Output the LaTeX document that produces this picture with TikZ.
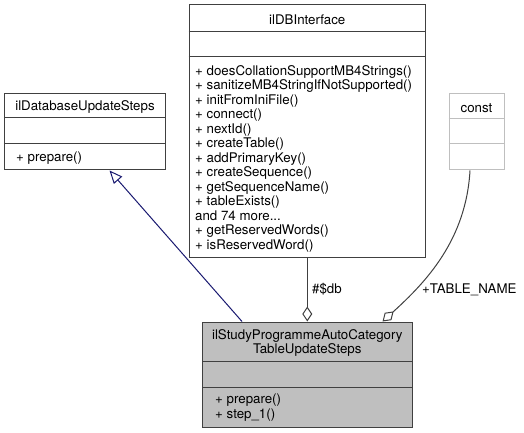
\documentclass[tikz,border=0pt]{standalone}
\usepackage{fontspec}
\setmainfont{TeX Gyre Heros}
\usetikzlibrary{arrows.meta}
\definecolor{edgegray}{HTML}{404040}
\definecolor{boxgray}{HTML}{BFBFBF}
\definecolor{inhblue}{HTML}{191970}

\begin{document}
\begin{tikzpicture}[x=1bp,y=-1bp,
  umlbox/.style={draw=edgegray,line width=1bp,fill=white,inner sep=0pt},
  sepline/.style={draw=edgegray,line width=1bp},
  headsty/.style={anchor=center,inner sep=0pt,align=center,font=\fontsize{13.3bp}{14.5bp}\selectfont},
  membsty/.style={anchor=west,inner sep=0pt,align=left,font=\fontsize{13.3bp}{14.5bp}\selectfont},
  inherit/.style={draw=inhblue,line width=1bp,-{Triangle[open,length=13bp,width=11bp]}},
  aggr/.style={draw=edgegray,line width=1bp,-{Diamond[open,length=15bp,width=10bp]}}]

  \useasboundingbox (0,0) rectangle (524,433);

  % base class
  \node[umlbox,minimum width=161bp,minimum height=76.5bp] (base) at (85,131.75) {};
  \draw[sepline] (base.west |- 0,118) -- (base.east |- 0,118);
  \draw[sepline] (base.west |- 0,144) -- (base.east |- 0,144);
  \node[headsty] (basetitle) at (85,106.9) {ilDatabaseUpdateSteps};
  \node[membsty] (basememb) at (16,158.3) {+ prepare()};

  % db interface
  \node[umlbox,minimum width=236.5bp,minimum height=252.5bp] (dbi) at (307.25,131.25) {};
  \draw[sepline] (dbi.west |- 0,32) -- (dbi.east |- 0,32);
  \draw[sepline] (dbi.west |- 0,57) -- (dbi.east |- 0,57);
  \node[headsty] (dbititle) at (307.25,19.9) {ilDBInterface};
  \node[membsty] (dbimemb) at (195,158.9) {+ doesCollationSupportMB4Strings()\\
    + sanitizeMB4StringIfNotSupported()\\ + initFromIniFile()\\ + connect()\\
    + nextId()\\ + createTable()\\ + addPrimaryKey()\\ + createSequence()\\
    + getSequenceName()\\ + tableExists()\\ and 74 more...\\
    + getReservedWords()\\ + isReservedWord()};

  % const
  \node[umlbox,draw=boxgray,minimum width=55bp,minimum height=76bp] (const) at (476.5,132) {};
  \draw[sepline,draw=boxgray] (const.west |- 0,119) -- (const.east |- 0,119);
  \draw[sepline,draw=boxgray] (const.west |- 0,144) -- (const.east |- 0,144);
  \node[headsty] (consttitle) at (476.5,107.9) {const};

  % the class itself
  \node[umlbox,fill=boxgray,minimum width=209.5bp,minimum height=105bp] (cls) at (307.25,374.5) {};
  \draw[sepline] (cls.west |- 0,361.5) -- (cls.east |- 0,361.5);
  \draw[sepline] (cls.west |- 0,387) -- (cls.east |- 0,387);
  \node[headsty] (clstitle) at (307.25,343.1) {ilStudyProgrammeAutoCategory\\TableUpdateSteps};
  \node[membsty] (clsmemb) at (215,407.4) {+ prepare()\\ + step\_1()};

  % edges
  \draw[inherit] ([xshift=40bp]cls.north west) -- ([xshift=105.5bp]base.south west);
  \draw[aggr] (dbi.south) -- (cls.north);
  \node[membsty] (dblabel) at (312,289.4) {\#\$db};
  \draw[aggr] ([xshift=-6.5bp]const.south) .. controls (466,240) and (426,282) .. ([xshift=-30bp]cls.north east);
  \node[membsty] (tnlabel) at (422,289.4) {+TABLE\_NAME};

\end{tikzpicture}
\end{document}
